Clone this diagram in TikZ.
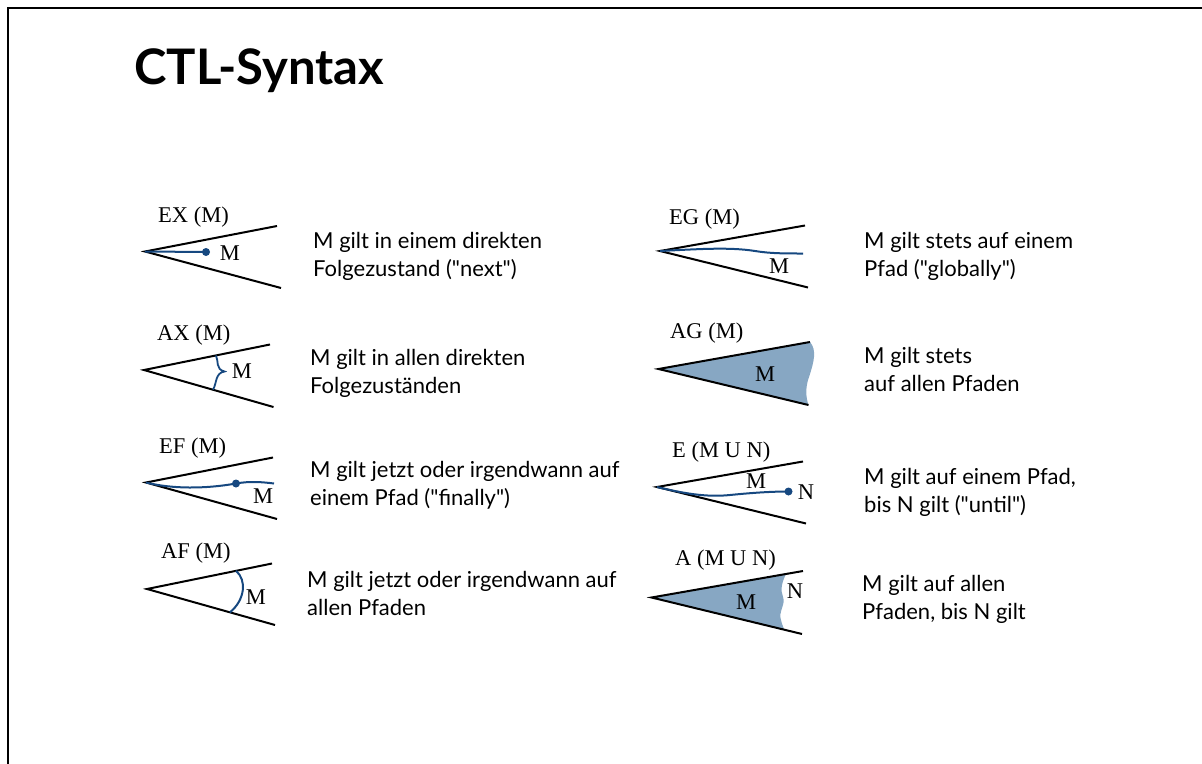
\documentclass[tikz,border=0pt]{standalone}
\usepackage{fontspec}
\newfontfamily\latofont{Lato}
\newfontfamily\formulafont{Liberation Serif}
\usetikzlibrary{calc}
\definecolor{pathblue}{RGB}{22,72,128}
\definecolor{regionfill}{RGB}{135,167,195}
\begin{document}
\begin{tikzpicture}[x=1pt,y=-1pt,
  frame/.style={line width=2.5pt,line cap=rect},
  wedge/.style={line width=2pt},
  pathline/.style={line width=2pt,draw=pathblue},
  dot/.style={circle,fill=pathblue,inner sep=0pt,minimum size=8pt},
  formula/.style={inner sep=0pt,anchor=base west,font=\formulafont\fontsize{22.5}{26}\selectfont},
  inner/.style={inner sep=0pt,font=\formulafont\fontsize{22.5}{26}\selectfont},
  desc/.style={inner sep=0pt,anchor=base west,align=left,font=\latofont\fontsize{22}{28}\selectfont},
  title/.style={inner sep=0pt,anchor=base west,font=\latofont\bfseries\fontsize{49}{56}\selectfont}]
\useasboundingbox (0,0) rectangle (1202,763);
% page frame
\coordinate (fr-r) at (1202,8);
\coordinate (fr-c) at (8,8);
\coordinate (fr-b) at (8,763);
\draw[frame] (fr-r) -- (fr-c) -- (fr-b);
\node[title] (title) at (134,84) {CTL-Syntax};

% ---------- EX ----------
\coordinate (ex-o) at (145,251.5);
\coordinate (ex-u) at (277,226);
\coordinate (ex-l) at (281,288);
\draw[wedge] (ex-u) -- (ex-o) -- (ex-l);
\node[dot] (ex-d) at (206,252) {};
\draw[pathline] (ex-o) -- (ex-d.center);
\node[inner] (ex-m) at (230,253) {M};
\node[formula] (ex-f) at (158,222.5) {EX (M)};
\node[desc] (ex-t) at (313,276.5) {M gilt in einem direkten\\Folgezustand ("next")};

% ---------- AX ----------
\coordinate (ax-o) at (144,370);
\coordinate (ax-u) at (270,344.5);
\coordinate (ax-l) at (273.5,407);
\draw[wedge] (ax-u) -- (ax-o) -- (ax-l);
\coordinate (ax-b1) at ($(ax-o)!0.571!(ax-u)$);
\coordinate (ax-b2) at ($(ax-o)!0.533!(ax-l)$);
\coordinate (ax-tip) at (224.5,371.5);
\draw[pathline,line width=1.8pt] (ax-b1) .. controls (219,361) and (215,369) .. (ax-tip)
  .. controls (215,373) and (217,383) .. (ax-b2);
\node[inner] (ax-m) at (242,371) {M};
\node[formula] (ax-f) at (157,340.5) {AX (M)};
\node[desc] (ax-t) at (310,393.5) {M gilt in allen direkten\\Folgezuständen};

% ---------- EF ----------
\coordinate (ef-o) at (146,482.5);
\coordinate (ef-u) at (273,457.5);
\coordinate (ef-l) at (277,519);
\draw[wedge] (ef-u) -- (ef-o) -- (ef-l);
\node[dot] (ef-d) at (236,483.5) {};
\coordinate (ef-e) at (274,483.5);
\draw[pathline] (ef-o) .. controls (172,489) and (205,489) .. (ef-d.center)
  .. controls (250,481) and (262,482) .. (ef-e);
\node[inner] (ef-m) at (263,496) {M};
\node[formula] (ef-f) at (159,453.5) {EF (M)};
\node[desc] (ef-t) at (310,505.5) {M gilt jetzt oder irgendwann auf\\einem Pfad ("finally")};

% ---------- AF ----------
\coordinate (af-o) at (147,589);
\coordinate (af-u) at (272,563.5);
\coordinate (af-l) at (275,625);
\draw[wedge] (af-u) -- (af-o) -- (af-l);
\coordinate (af-a1) at ($(af-o)!0.712!(af-u)$);
\coordinate (af-a2) at ($(af-o)!0.648!(af-l)$);
\draw[pathline] (af-a1) .. controls (247,580) and (245,600) .. (af-a2);
\node[inner] (af-m) at (256,597) {M};
\node[formula] (af-f) at (161,558.5) {AF (M)};
\node[desc] (af-t) at (307,615.5) {M gilt jetzt oder irgendwann auf\\allen Pfaden};

% ---------- EG ----------
\coordinate (eg-o) at (660,251);
\coordinate (eg-u) at (805,225.5);
\coordinate (eg-l) at (808,287.5);
\draw[wedge] (eg-u) -- (eg-o) -- (eg-l);
\coordinate (eg-e) at (803,253.5);
\draw[pathline] (eg-o) .. controls (700,249) and (730,247) .. (755,251)
  .. controls (770,253.5) and (785,253.5) .. (eg-e);
\node[inner] (eg-m) at (779,266.5) {M};
\node[formula] (eg-f) at (669,224.5) {EG (M)};
\node[desc] (eg-t) at (864,276.5) {M gilt stets auf einem\\Pfad ("globally")};

% ---------- AG ----------
\coordinate (ag-o) at (658.5,369);
\coordinate (ag-u) at (810,342);
\coordinate (ag-l) at (808.5,405);
\fill[regionfill] (ag-o) -- (ag-u) .. controls (817,350) and (814,362) .. (809,377)
  .. controls (805,388) and (806,398) .. (ag-l) -- cycle;
\draw[wedge] (ag-u) -- (ag-o) -- (ag-l);
\node[inner] (ag-m) at (765,374) {M};
\node[formula] (ag-f) at (670,338.5) {AG (M)};
\node[desc] (ag-t) at (864,391.5) {M gilt stets\\auf allen Pfaden};

% ---------- E(M U N) ----------
\coordinate (eu-o) at (657,487);
\coordinate (eu-u) at (803,461.5);
\coordinate (eu-l) at (806,523.5);
\draw[wedge] (eu-u) -- (eu-o) -- (eu-l);
\node[dot] (eu-d) at (788.5,491.5) {};
\draw[pathline] (eu-o) .. controls (690,495) and (710,497) .. (730,495)
  .. controls (750,493) and (770,491.5) .. (eu-d.center);
\node[inner] (eu-m) at (756,481.5) {M};
\node[inner] (eu-n) at (806,492.5) {N};
\node[formula] (eu-f) at (672,457.5) {E (M U N)};
\node[desc] (eu-t) at (864,512.5) {M gilt auf einem Pfad,\\bis N gilt ("until")};

% ---------- A(M U N) ----------
\coordinate (au-o) at (651.5,597.5);
\coordinate (au-u) at (803,571);
\coordinate (au-l) at (802,634);
\coordinate (au-f1) at ($(au-o)!0.888!(au-u)$);
\coordinate (au-f2) at ($(au-o)!0.880!(au-l)$);
\fill[regionfill] (au-o) -- (au-f1) .. controls (782,582) and (780,590) .. (783,597)
  .. controls (786,604) and (778,612) .. (781,620)
  .. controls (782,625) and (784,628) .. (au-f2) -- cycle;
\draw[wedge] (au-u) -- (au-o) -- (au-l);
\node[inner] (au-m) at (746,602) {M};
\node[inner] (au-n) at (795,591.5) {N};
\node[formula] (au-fm) at (675,565.5) {A (M U N)};
\node[desc] (au-t) at (862,619.5) {M gilt auf allen\\Pfaden, bis N gilt};
\end{tikzpicture}
\end{document}
